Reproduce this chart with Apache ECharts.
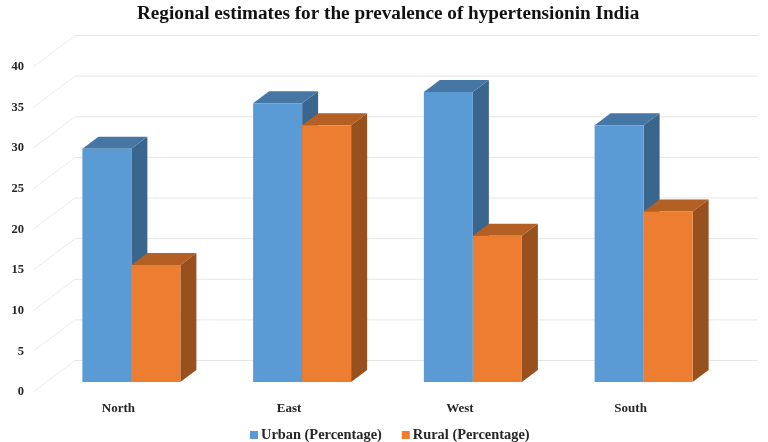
<!DOCTYPE html>
<html>
<head>
<meta charset="utf-8">
<style>html,body{margin:0;padding:0;background:#fff}#c{width:768px;height:442px}</style>
<script src="https://cdn.jsdelivr.net/npm/echarts@6/dist/echarts.min.js"></script>
</head>
<body>
<div id="c"></div>
<script>
const categories = ['North', 'East', 'West', 'South'];
const urban = [28.7, 34.3, 35.7, 31.6];
const rural = [14.4, 31.6, 18.0, 21.0];
const yTicks = [0, 5, 10, 15, 20, 25, 30, 35, 40];
const seriesNames = ['Urban (Percentage)', 'Rural (Percentage)'];
const titleText = 'Regional estimates for the prevalence of hypertensionin India';

const FONT = '"Liberation Serif"';
const TEXT = '#262626';
const WALL = { dx: 42, dy: -31.5 };
const BAR_SHIFT = { dx: 13, dy: -10 };
const BAR_DEPTH = { dx: 16, dy: -12 };
const BAR_FRAC = 0.287;

function poly(pts, fill) {
  return { type: 'polygon', shape: { points: pts }, style: { fill: fill }, silent: true };
}

function barRenderer(side, front, top, dark) {
  return function (params, api) {
    const base = api.coord([api.value(0), 0]);
    const head = api.coord([api.value(0), api.value(1)]);
    const w = api.size([1, 0])[0] * BAR_FRAC;
    const x0 = base[0] + BAR_SHIFT.dx + (side < 0 ? -w : 0);
    const x1 = x0 + w;
    const yb = base[1] + BAR_SHIFT.dy;
    const yt = head[1] + BAR_SHIFT.dy;
    const dx = BAR_DEPTH.dx, dy = BAR_DEPTH.dy;
    return {
      type: 'group',
      children: [
        poly([[x1, yt], [x1 + dx, yt + dy], [x1 + dx, yb + dy], [x1, yb]], dark),
        poly([[x0, yt], [x0 + dx, yt + dy], [x1 + dx, yt + dy], [x1, yt]], top),
        poly([[x0, yt], [x1, yt], [x1, yb], [x0, yb]], front)
      ]
    };
  };
}

function wallRenderer(params, api) {
  const p = api.coord([0, api.value(0)]);
  const band = api.size([1, 0])[0];
  const x0 = p[0] - band / 2;
  const xEnd = x0 + band * categories.length + WALL.dx;
  const yBack = p[1] + WALL.dy;
  return {
    type: 'group',
    children: [
      { type: 'line', shape: { x1: x0, y1: p[1], x2: x0 + WALL.dx, y2: yBack },
        style: { stroke: '#ececec', lineWidth: 1 }, silent: true },
      { type: 'line', shape: { x1: x0 + WALL.dx, y1: yBack, x2: xEnd, y2: yBack },
        style: { stroke: '#e6e6e6', lineWidth: 1 }, silent: true }
    ]
  };
}

const chart = echarts.init(document.getElementById('c'), null, { renderer: 'canvas' });
chart.setOption({
  animation: false,
  backgroundColor: '#ffffff',
  title: {
    text: titleText,
    left: 132, top: 0,
    textStyle: { fontFamily: FONT, fontSize: 19.2, fontWeight: 'bold', color: '#111' }
  },
  legend: {
    data: seriesNames,
    top: 423, left: 245,
    icon: 'rect', itemWidth: 8, itemHeight: 8, itemGap: 20,
    textStyle: { fontFamily: FONT, fontSize: 14.4, fontWeight: 'bold', color: TEXT, padding: [0, 0, 0, -2] }
  },
  grid: { left: 33, width: 683, top: 67, height: 325 },
  xAxis: {
    type: 'category', data: categories,
    axisLine: { show: false }, axisTick: { show: false }, splitLine: { show: false },
    axisLabel: { margin: 10, fontFamily: FONT, fontSize: 13, fontWeight: 'bold', color: TEXT }
  },
  yAxis: {
    type: 'value', min: 0, max: 40, interval: 5,
    axisLine: { show: false }, axisTick: { show: false }, splitLine: { show: false },
    axisLabel: { margin: 9, fontFamily: FONT, fontSize: 12.5, fontWeight: 'bold', color: TEXT }
  },
  series: [
    {
      type: 'custom', name: 'walls', z: 1, silent: true,
      coordinateSystem: 'cartesian2d',
      encode: { y: 0 },
      data: yTicks.map(v => [v]),
      renderItem: wallRenderer
    },
    {
      type: 'custom', name: seriesNames[0], z: 2,
      coordinateSystem: 'cartesian2d',
      encode: { x: 0, y: 1 },
      itemStyle: { color: '#5B9BD5' },
      data: urban.map((v, i) => [i, v]),
      renderItem: barRenderer(-1, '#5B9BD5', '#4676A3', '#3A668E')
    },
    {
      type: 'custom', name: seriesNames[1], z: 3,
      coordinateSystem: 'cartesian2d',
      encode: { x: 0, y: 1 },
      itemStyle: { color: '#ED7D31' },
      data: rural.map((v, i) => [i, v]),
      renderItem: barRenderer(1, '#ED7D31', '#B45F24', '#97501E')
    }
  ]
});
</script>
</body>
</html>
